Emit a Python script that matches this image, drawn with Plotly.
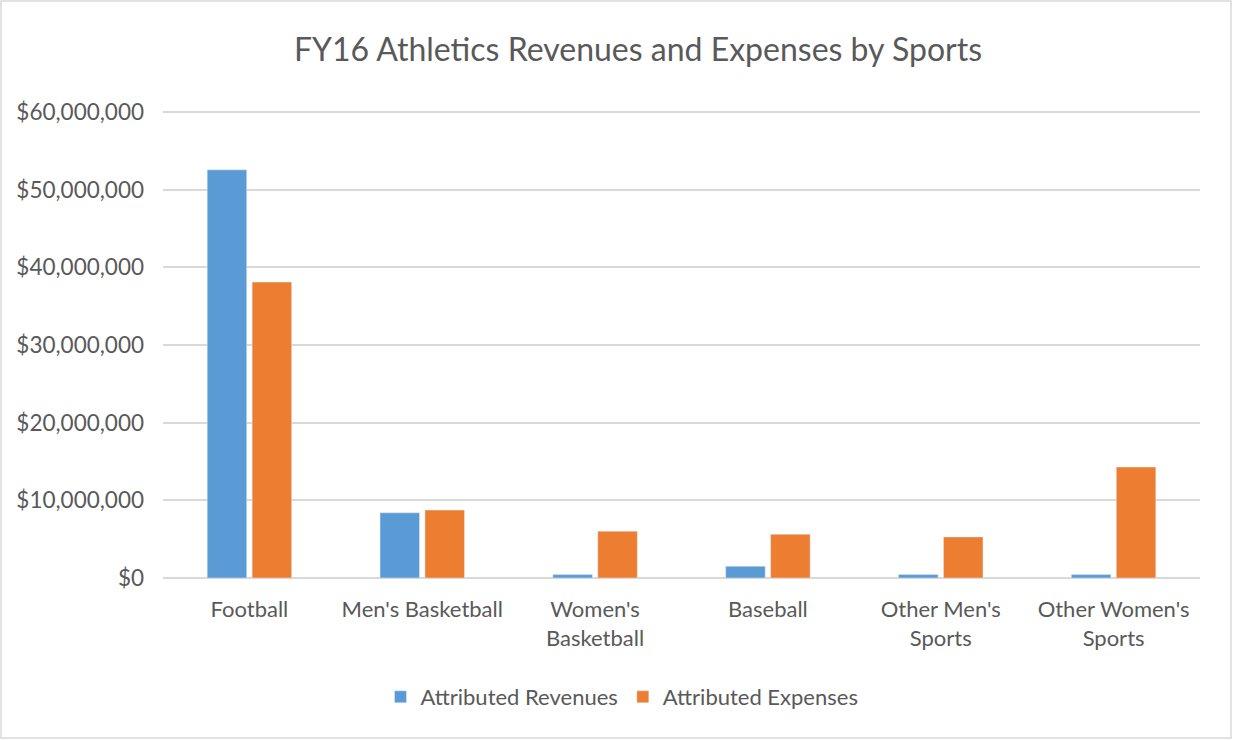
import plotly.graph_objects as go

categories = ["Football", "Men's Basketball", "Women's<br>Basketball", "Baseball",
              "Other Men's<br>Sports", "Other Women's<br>Sports"]
revenues = [52550000, 8400000, 440000, 1520000, 440000, 440000]
expenses = [38100000, 8750000, 6030000, 5640000, 5290000, 14290000]
tick_vals = [0, 10000000, 20000000, 30000000, 40000000, 50000000, 60000000]
tick_text = ["$0", "$10,000,000", "$20,000,000", "$30,000,000", "$40,000,000",
             "$50,000,000", "$60,000,000"]

FONT = "Lato, 'Open Sans', sans-serif"
GRAY = "#595959"

fig = go.Figure()
fig.add_trace(go.Bar(x=categories, y=revenues, name="Attributed Revenues",
                     marker=dict(color="#5B9BD5")))
fig.add_trace(go.Bar(x=categories, y=expenses, name="Attributed Expenses",
                     marker=dict(color="#ED7D31")))

W, H = 1233, 740
L, R, T, B = 163, 33, 110, 162
pw, ph = W - L - R, H - T - B
ymax = 60000000 * (1 + 2 / 466)

fig.update_layout(
    width=W, height=H, autosize=False,
    margin=dict(l=L, r=R, t=T, b=B, autoexpand=False),
    paper_bgcolor="white", plot_bgcolor="white",
    barmode="group", bargap=0.48, bargroupgap=0.12,
    title=dict(text="FY16 Athletics Revenues and Expenses by Sports",
               x=638 / W, xanchor="center", y=1 - 50 / H, yanchor="middle",
               font=dict(family=FONT, size=32, color=GRAY)),
    font=dict(family=FONT, size=22, color=GRAY),
    xaxis=dict(showgrid=False, showline=False, ticks="", ticklabelstandoff=16,
               tickangle=0, automargin=False,
               tickfont=dict(size=22, color=GRAY)),
    yaxis=dict(range=[0, ymax], tickvals=tick_vals, ticktext=tick_text,
               showgrid=True, gridcolor="#D9D9D9", gridwidth=1.5,
               zeroline=True, zerolinecolor="#D9D9D9", zerolinewidth=1.5,
               showline=False, ticks="", ticklabelstandoff=18, automargin=False,
               tickfont=dict(size=22.5, color=GRAY)),
    legend=dict(orientation="h", x=(622 - L) / pw, xanchor="center",
                y=-(697 - 578) / ph, yanchor="middle",
                font=dict(size=22, color=GRAY),
                itemwidth=30, traceorder="normal"),
    shapes=[dict(type="rect", xref="paper", yref="paper",
                 x0=-(L - 1) / pw, x1=1 + (R - 2) / pw,
                 y0=-(B - 2) / ph, y1=1 + (T - 1) / ph,
                 line=dict(color="#D9D9D9", width=1.5), layer="below")],
)

fig.write_html("out.html")
